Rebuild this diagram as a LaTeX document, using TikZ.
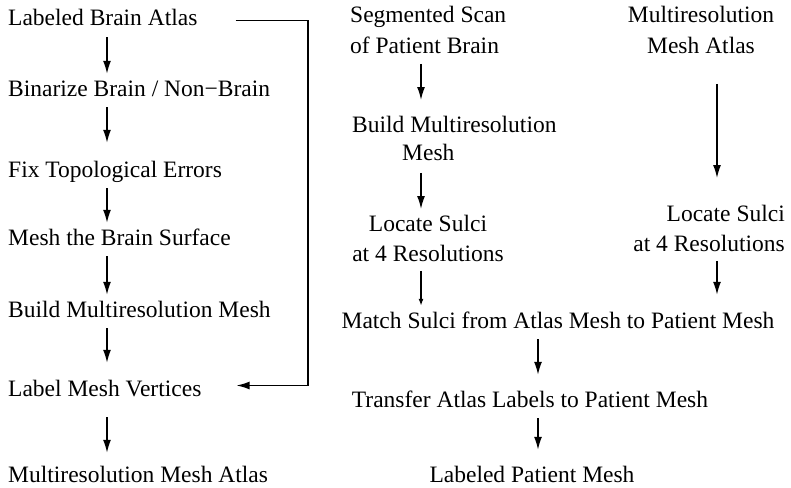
\documentclass[tikz,border=0pt]{standalone}
\usepackage{fontspec}
\setmainfont{Liberation Serif}
\usetikzlibrary{arrows.meta}

\begin{document}
\begin{tikzpicture}
%defines
  [x=1pt,y=-1pt,
proc/.style={inner sep=6pt,text height=16pt,text depth=5pt,
font=\fontsize{23.5pt}{30pt}\selectfont},
proctwo/.style={inner sep=6pt,font=\fontsize{23.5pt}{30pt}\selectfont},
arr/.style={line width=1.5pt,-{Latex[length=13pt,width=8pt]}},
smallarr/.style={line width=1.5pt,-{Latex[length=7pt,width=5pt]}}]
\useasboundingbox (0,0) rectangle (791,487);
%nodes
\node[proc,anchor=base west] (lba) at (2,26)  {Labeled Brain Atlas};
\node[proc,anchor=base west] (bin) at (2,96)  {Binarize Brain / Non−Brain};
\node[proc,anchor=base west] (fix) at (2,177) {Fix Topological Errors};
\node[proc,anchor=base west] (msh) at (2,245) {Mesh the Brain Surface};
\node[proc,anchor=base west] (bld) at (2,317) {Build Multiresolution Mesh};
\node[proc,anchor=base west] (lmv) at (2,396) {Label Mesh Vertices};
\node[proc,anchor=base west] (out) at (2,482) {Multiresolution Mesh Atlas};
\node[proctwo,align=left,anchor=north west,
      font=\fontsize{23.5pt}{31pt}\selectfont] (seg) at (344,0) {Segmented Scan\\of Patient Brain};
\node[proctwo,align=left,anchor=north west,
      font=\fontsize{23.5pt}{28pt}\selectfont] (bmm) at (346,110) {Build Multiresolution\\\hspace*{50pt}Mesh};
\node[proctwo,align=center,anchor=north] (ls1) at (428,209) {Locate Sulci\\at 4 Resolutions};
\node[proctwo,align=center,anchor=north,
      font=\fontsize{23.5pt}{31pt}\selectfont] (mra) at (701,0) {Multiresolution\\Mesh Atlas};
\node[proctwo,align=right,anchor=north east] (ls2) at (791,199) {Locate Sulci\\at 4 Resolutions};
\node[proc,anchor=base] (mat) at (558,328) {Match Sulci from Atlas Mesh to Patient Mesh};
\node[proc,anchor=base] (tra) at (530,407) {Transfer Atlas Labels to Patient Mesh};
\node[proc,anchor=base] (lpm) at (532,482) {Labeled Patient Mesh};
\coordinate (lx) at (107,0);
\coordinate (mx) at (421,0);
\coordinate (cx) at (538,0);
\coordinate (rx) at (717,0);
\coordinate (fb) at (308,0);
%links
\draw [arr] (lba.south -| lx) -- (bin.north -| lx);
\draw [arr,shorten >=12pt] (bin.south -| lx) -- (fix.north -| lx);
\draw [arr] (fix.south -| lx) -- (msh.north -| lx);
\draw [arr] (msh.south -| lx) -- (bld.north -| lx);
\draw [arr,shorten >=11pt] (bld.south -| lx) -- (lmv.north -| lx);
\draw [arr,shorten <=10pt,shorten >=7pt] (lmv.south -| lx) -- (out.north -| lx);
\draw [arr,shorten <=32pt,shorten >=29pt] (lba.east) -- (lba.east -| fb)
  -- ([yshift=5pt]lmv.east -| fb) -- ([yshift=5pt]lmv.east);
\draw [arr,shorten <=4pt,shorten >=10pt] (seg.south -| mx) -- (bmm.north -| mx);
\draw [arr,shorten <=6pt] (bmm.south -| mx) -- (ls1.north -| mx);
\draw [smallarr,shorten <=3pt] (ls1.south -| mx) -- (mat.north -| mx);
\draw [arr,shorten <=24pt,shorten >=21pt] (mra.south -| rx) -- (ls2.north -| rx);
\draw [arr,shorten <=3pt,shorten >=11pt] (ls2.south -| rx) -- (mat.north -| rx);
\draw [arr,shorten >=10pt] (mat.south -| cx) -- (tra.north -| cx);
\draw [arr,shorten >=10pt] (tra.south -| cx) -- (lpm.north -| cx);
\end{tikzpicture}
\end{document}
